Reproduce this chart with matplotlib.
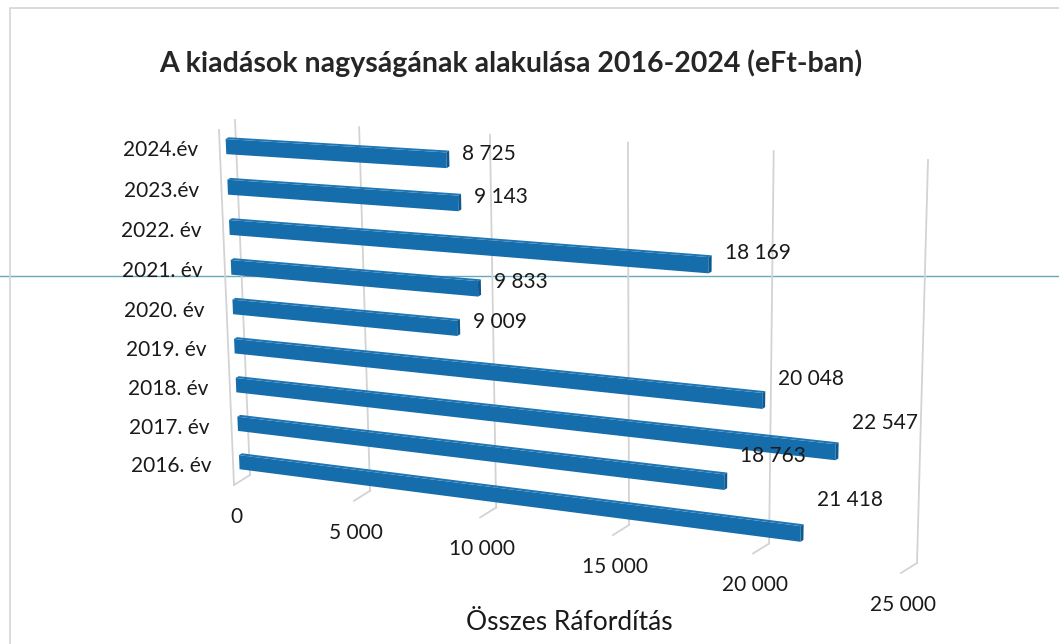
import numpy as np
import matplotlib
matplotlib.use("Agg")
import matplotlib.pyplot as plt
import matplotlib.transforms as mtransforms
from matplotlib.patches import Polygon

# Adatok (alulról felfelé, ahogy a tengelyen állnak)
evek = ["2016. év", "2017. év", "2018. év", "2019. év", "2020. év",
        "2021. év", "2022. év", "2023.év", "2024.év"]
kiadasok = [21418, 18763, 22547, 20048, 9009, 9833, 18169, 9143, 8725]
tengely_ertekek = [0, 5000, 10000, 15000, 20000, 25000]

cim = "A kiadások nagyságának alakulása 2016-2024 (eFt-ban)"
tengely_cim = "Összes Ráfordítás"

VMAX = 25000
NCAT = len(evek)

# Excel-szerű 3D nézet: a hátfal sarkai képpontban (bal-lent, jobb-lent, jobb-fent, bal-fent)
FAL = [(250, 475), (917, 563), (928, 160), (235, 120)]
MELYSEG = np.array([-16.0, 10.0])   # a padló elülső széle a falhoz képest


def homografia(src, dst):
    A, b = [], []
    for (u, v), (x, y) in zip(src, dst):
        A.append([u, v, 1, 0, 0, 0, -u * x, -v * x])
        b.append(x)
        A.append([0, 0, 0, u, v, 1, -u * y, -v * y])
        b.append(y)
    h = np.linalg.solve(np.array(A, float), np.array(b, float))
    return np.append(h, 1.0).reshape(3, 3)


H = homografia([(0, 0), (1, 0), (1, 1), (0, 1)], FAL)


class Perspektiva(mtransforms.Transform):
    """(érték, kategória) -> képpont, adott mélységben."""
    input_dims = 2
    output_dims = 2

    def __init__(self, melyseg=0.0):
        super().__init__()
        self.melyseg = melyseg

    def transform_non_affine(self, values):
        xy = np.asarray(values, float).reshape(-1, 2)
        u = xy[:, 0] / VMAX
        w = xy[:, 1] / NCAT
        p = np.column_stack([u, w, np.ones_like(u)]) @ H.T
        return p[:, :2] / p[:, 2:] + self.melyseg * MELYSEG


plt.rcParams["font.family"] = ["Lato", "DejaVu Sans"]

fig = plt.figure(figsize=(10.59, 6.44), dpi=100)
ax = fig.add_axes([0, 0, 1, 1])
ax.set_xlim(0, 1059)
ax.set_ylim(644, 0)
ax.axis("off")

# keret + szkennelési vonal
ax.plot([10, 10, 1059], [644, 8, 8], color="#d4d4d4", lw=1.2)
ax.axhline(276, color="#6aaab8", lw=1, zorder=0.5)

racs = "#d3d3d3"
fal = Perspektiva(0.0)
elol = Perspektiva(1.0)
for v in tengely_ertekek:
    ax.plot([v, v], [0, NCAT], color=racs, lw=1.3, transform=fal + ax.transData, zorder=1)
    p0 = fal.transform([[v, 0]])[0]
    p1 = elol.transform([[v, 0]])[0]
    ax.plot([p0[0], p1[0]], [p0[1], p1[1]], color=racs, lw=1.3, zorder=1)
# oldalfal elülső éle
ax.plot([0, 0], [0, NCAT], color=racs, lw=1.3, transform=elol + ax.transData, zorder=1)

# oszlopok
poz = np.arange(NCAT) + 0.5
vastag = 0.37
d_elol, d_hatul = 0.62, 0.44
elso = Perspektiva(d_elol)
hatso = Perspektiva(d_hatul)

for i in range(NCAT - 1, -1, -1):
    v = kiadasok[i]
    z = 2 + (NCAT - i) * 0.01
    k0, k1 = poz[i] - vastag / 2, poz[i] + vastag / 2
    ax.barh(poz[i], v, height=vastag, left=0, color="#166dab", edgecolor="none",
            transform=elso + ax.transData, zorder=z)
    teto = np.vstack([elso.transform([[0, k1], [v, k1]]),
                      hatso.transform([[v, k1], [0, k1]])])
    ax.add_patch(Polygon(teto, closed=True, facecolor="#1f76b5", edgecolor="none", zorder=z))
    veg = np.vstack([elso.transform([[v, k0], [v, k1]]),
                     hatso.transform([[v, k1], [v, k0]])])
    ax.add_patch(Polygon(veg, closed=True, facecolor="#0d5990", edgecolor="none", zorder=z))

# adatcímkék
for i, v in enumerate(kiadasok):
    x, y = fal.transform([[v, poz[i]]])[0]
    emeles = max(v - 9000, 0) * 0.00027 * (8.9 - poz[i])
    ax.text(x + 6, y - emeles, f"{v:,}".replace(",", " "), fontsize=15,
            ha="left", va="center", color="#1a1a1a", zorder=5)

# kategória feliratok
for i, ev in enumerate(evek):
    x, y = elol.transform([[0, poz[i]]])[0]
    ax.text(x - 22, y, ev, fontsize=15, ha="right", va="center", color="#1a1a1a")

# értéktengely feliratai
for v in tengely_ertekek:
    x, y = elol.transform([[v, 0]])[0]
    ax.text(x + 2, y + 32, f"{v:,}".replace(",", " "), fontsize=15,
            ha="center", va="center", color="#1a1a1a")

ax.text(569, 622, tengely_cim, fontsize=19, ha="center", va="center", color="#1a1a1a")
ax.text(511, 63, cim, fontsize=20.5, fontweight="bold", ha="center", va="center",
        color="#262626")

fig.savefig("out.png", dpi=100)
